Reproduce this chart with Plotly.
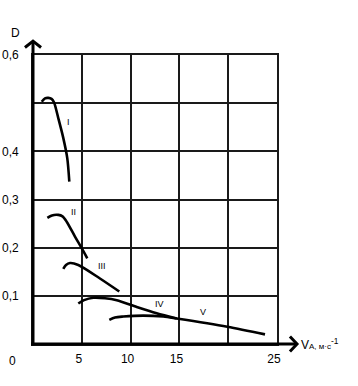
import plotly.graph_objects as go

# --- data ---
x_I = [0.89, 1.23, 1.57, 1.90, 2.15, 2.59, 3.10, 3.51, 3.72]
y_I = [0.503, 0.510, 0.511, 0.509, 0.502, 0.469, 0.428, 0.386, 0.337]

x_II = [1.47, 1.95, 2.59, 3.02, 3.45, 4.30, 4.99, 5.56]
y_II = [0.262, 0.267, 0.268, 0.265, 0.254, 0.223, 0.199, 0.178]

x_III = [3.10, 3.38, 3.79, 4.64, 6.86, 8.84]
y_III = [0.156, 0.164, 0.168, 0.164, 0.136, 0.109]

x_IV = [4.64, 5.23, 6.18, 7.38, 8.58, 10.63, 12.67, 14.72]
y_IV = [0.084, 0.091, 0.096, 0.095, 0.091, 0.077, 0.064, 0.053]

x_V = [7.82, 8.40, 9.25, 11.30, 13.35, 14.72, 19.91, 23.77]
y_V = [0.050, 0.055, 0.057, 0.059, 0.057, 0.053, 0.036, 0.020]

curve_names = ["I", "II", "III", "IV", "V"]
label_x = [3.59, 4.10, 7.07, 13.0, 17.4]
label_y = [0.461, 0.274, 0.162, 0.083, 0.066]

x_ticks = [5, 10, 15, 25]
x_ticktext = ["5", "10", "15", "25"]
x_extra_grid = [20]
y_ticks = [0.1, 0.2, 0.3, 0.4, 0.6]
y_ticktext = ["0,1", "0,2", "0,3", "0,4", "0,6"]
y_extra_grid = [0.5]

FONT = "Liberation Sans, Arial, sans-serif"

fig = go.Figure()
for xs, ys in [(x_I, y_I), (x_II, y_II), (x_III, y_III), (x_IV, y_IV), (x_V, y_V)]:
    fig.add_trace(go.Scatter(x=xs, y=ys, mode="lines",
                             line=dict(color="black", width=2.6, shape="spline", smoothing=0.8),
                             showlegend=False, hoverinfo="skip", cliponaxis=False))

for name, lx, ly in zip(curve_names, label_x, label_y):
    fig.add_annotation(x=lx, y=ly, text=name, showarrow=False, xref="x", yref="y",
                       font=dict(size=9, color="black", family=FONT))

# axis lines and arrows
fig.add_shape(type="line", xref="paper", yref="paper", x0=0, x1=0, y0=-0.004, y1=1.045,
              line=dict(color="black", width=3))
fig.add_shape(type="line", xref="paper", yref="paper", x0=-0.008, x1=1.08, y0=0, y1=0,
              line=dict(color="black", width=3))
fig.add_shape(type="path", xref="paper", yref="paper",
              path="M -0.033,1.026 L 0,1.048 L 0.033,1.026",
              line=dict(color="black", width=3))
fig.add_shape(type="path", xref="paper", yref="paper",
              path="M 1.053,0.026 L 1.082,0 L 1.053,-0.026",
              line=dict(color="black", width=3))

fig.add_annotation(x=-0.07, y=1.076, xref="paper", yref="paper", xanchor="center", yanchor="middle",
                   text="D", showarrow=False, font=dict(size=12, color="black", family=FONT))
fig.add_annotation(x=-0.082, y=-0.059, xref="paper", yref="paper", xanchor="center", yanchor="middle",
                   text="0", showarrow=False, font=dict(size=12, color="black", family=FONT))
fig.add_annotation(x=1.09, y=0.0, xref="paper", yref="paper", xanchor="left", yanchor="middle",
                   text="V<span style='font-size:8px'>A, м·с</span><sup style='font-size:6px'>-1</sup>",
                   showarrow=False, font=dict(size=12, color="black", family=FONT))

fig.update_xaxes(range=[0, 25], tickvals=x_ticks, ticktext=x_ticktext, showgrid=True,
                 gridcolor="#1a1a1a", gridwidth=1.6, zeroline=False,
                 showline=True, mirror=True, linecolor="#1a1a1a", linewidth=1.6, ticks="",
                 minor=dict(tickvals=x_extra_grid, showgrid=True, gridcolor="#1a1a1a", gridwidth=1.6),
                 automargin=False, ticklabelstandoff=3, ticklabelshift=-3,
                 tickfont=dict(size=12, color="black", family=FONT))
fig.update_yaxes(range=[0, 0.6], tickvals=y_ticks, ticktext=y_ticktext, showgrid=True,
                 gridcolor="#1a1a1a", gridwidth=1.6, zeroline=False,
                 showline=True, mirror=True, linecolor="#1a1a1a", linewidth=1.6, ticks="",
                 minor=dict(tickvals=y_extra_grid, showgrid=True, gridcolor="#1a1a1a", gridwidth=1.6),
                 automargin=False, ticklabelstandoff=10,
                 tickfont=dict(size=12, color="black", family=FONT))

fig.update_layout(width=358, height=386, margin=dict(l=33, r=81, t=55, b=42),
                  plot_bgcolor="white", paper_bgcolor="white", showlegend=False)

# remove the default page margin so the figure sits at the window's top-left corner
fig.write_html("out.html", config={"displayModeBar": False},
               post_script="document.body.style.margin='0';document.body.style.overflow='hidden';")
